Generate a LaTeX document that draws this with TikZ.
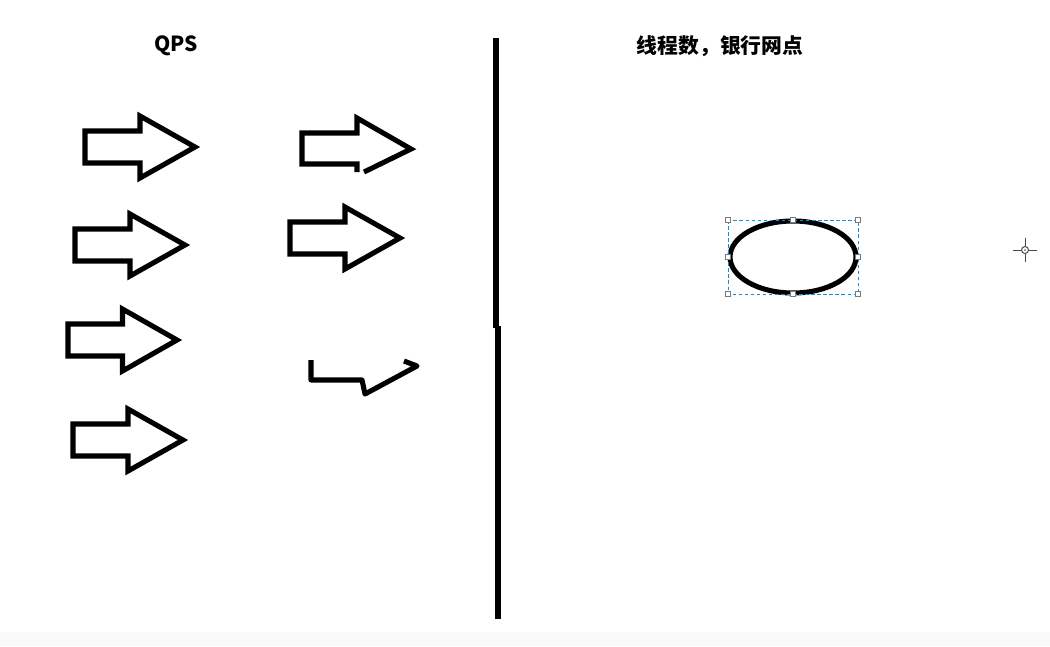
\documentclass[tikz,border=0pt]{standalone}
\usepackage{fontspec}
\newfontfamily\cjk{Noto Sans CJK SC}
\usetikzlibrary{positioning}
\definecolor{inkcol}{HTML}{000000}
\definecolor{selcol}{HTML}{3C7FA8}
\definecolor{handlecol}{HTML}{7A7A7A}
\definecolor{barcol}{HTML}{F9F9F9}
\tikzset{
  ink/.style={draw=inkcol, line width=3.6pt, line join=miter},
  rule/.style={draw=inkcol, line width=3.6pt},
  selbox/.style={draw=selcol, line width=0.6pt, dash pattern=on 2.5pt off 1.8pt},
  handle/.style={draw=handlecol, fill=white, line width=0.5pt, minimum size=3.6pt, inner sep=0pt, rectangle},
  title/.style={font=\cjk\bfseries\fontsize{14.8}{17}\selectfont, inner sep=0pt},
}
\begin{document}
\begin{tikzpicture}[x=0.025cm, y=-0.025cm]
  \useasboundingbox (0,0) rectangle (1050,646);
  \fill[barcol] (0,632) rectangle (1050,646);
  % titles
  \node[title] (qps) at (176,46) {QPS};
  \node[title] (threads) at (720,46) {线程数，银行网点};
  % divider, drawn in two strokes
  \coordinate (d0) at (496,38);
  \coordinate (d1) at (496,328);
  \coordinate (d2) at (498,326);
  \coordinate (d3) at (498,619);
  \draw[rule] (d0) -- (d1);
  \draw[rule] (d2) -- (d3);
  % block arrows: left x / centre y / tip x
  \foreach \l/\c/\t in {85/147/195, 75/245/185, 68/340/177, 73/440/183, 290/238/400}
    \draw[ink] (\l,\c-16) -- ({(\l+\t)/2},\c-16) -- ({(\l+\t)/2},\c-31) -- (\t,\c)
      -- ({(\l+\t)/2},\c+31) -- ({(\l+\t)/2},\c+16) -- (\l,\c+16) -- cycle;
  % arrow with a clipped corner
  \draw[ink] (357,172) -- (357,164) -- (302,164) -- (302,133) -- (357,133)
    -- (357,118) -- (411,149) -- (364,172);
  % half drawn arrow
  \draw[ink, line join=round] (311,360) -- (311,380) -- (362,380) -- (365,394)
    -- (417,366) -- (404,361);
  % selected ellipse
  \coordinate (bank) at (793,257);
  \draw[ink] (bank) ellipse [x radius=63, y radius=36];
  \draw[selbox] (728,220) rectangle (858,294);
  \foreach \x in {728,793,858}
    \foreach \y in {220,294}
      \node[handle] at (\x,\y) {};
  \foreach \x in {728,858}
    \node[handle] at (\x,257) {};
  % cursor
  \coordinate (cur) at (1025,250);
  \draw[handlecol!60!black, line width=0.7pt] (cur) circle [radius=3.5];
  \draw[handlecol!60!black, line width=0.7pt]
    ([xshift=-0.3cm]cur) -- ([xshift=-0.09cm]cur)
    ([xshift=0.3cm]cur) -- ([xshift=0.09cm]cur)
    ([yshift=-0.3cm]cur) -- ([yshift=-0.09cm]cur)
    ([yshift=0.3cm]cur) -- ([yshift=0.09cm]cur);
  \fill[handlecol!60!black] (cur) circle [radius=0.8];
\end{tikzpicture}
\end{document}
